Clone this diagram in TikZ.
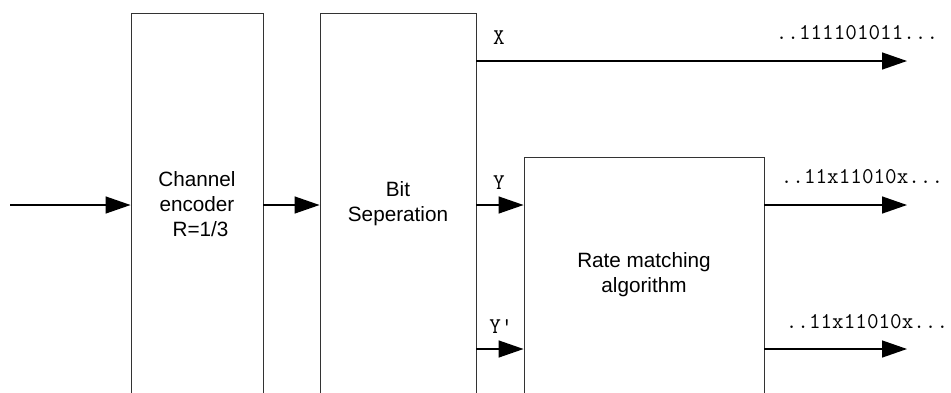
\documentclass[tikz,border=0pt]{standalone}
\usepackage{fontspec}
\setmainfont{Liberation Sans}
\usetikzlibrary{arrows.meta}
\tikzset{
  blk/.style={draw=black!80, line width=0.9pt, fill=white, inner sep=0pt, align=center,
    font=\fontsize{20.7}{25}\selectfont},
  sig/.style={line width=1.4pt, -{Triangle[length=25pt,width=17pt]}},
  lbl/.style={inner sep=0pt, font=\ttfamily\fontsize{22.5}{24}\selectfont}
}
\begin{document}
\begin{tikzpicture}[x=1pt,y=-1pt]
\useasboundingbox (0,0) rectangle (951,392);
\clip (0,0) rectangle (951,392);
% blocks
\node[blk, minimum width=132pt, minimum height=382pt] (enc) at (197,204) {Channel\\encoder\\\hspace*{7pt}R=1/3};
\node[blk, minimum width=156pt, minimum height=382pt] (sep) at (398,204) {Bit\\Seperation};
\node[blk, minimum width=240pt, minimum height=236pt] (rm) at (644,275) {Rate matching\\algorithm};
% coordinates
\coordinate (in) at (10,205);
\coordinate (xo) at (907,61);
\coordinate (yo) at (907,205);
\coordinate (ypo) at (907,349);
% connectors
\draw[sig] (in) -- (enc.west |- in);
\draw[sig] (enc.east |- in) -- (sep.west |- in);
\draw[sig] (sep.east |- xo) -- (xo);
\draw[sig] (sep.east |- yo) -- (rm.west |- yo);
\draw[sig] (sep.east |- ypo) -- (rm.west |- ypo);
\draw[sig] (rm.east |- yo) -- (yo);
\draw[sig] (rm.east |- ypo) -- (ypo);
% labels
\node[lbl] (lx) at (499,38) {X};
\node[lbl] (ly) at (499,183) {Y};
\node[lbl] (lyp) at (501,327) {Y'};
\node[lbl] (ox) at (857,33) {..111101011...};
\node[lbl] (oy) at (862,177) {..11x11010x...};
\node[lbl] (oyp) at (867,322) {..11x11010x...};
\end{tikzpicture}
\end{document}
